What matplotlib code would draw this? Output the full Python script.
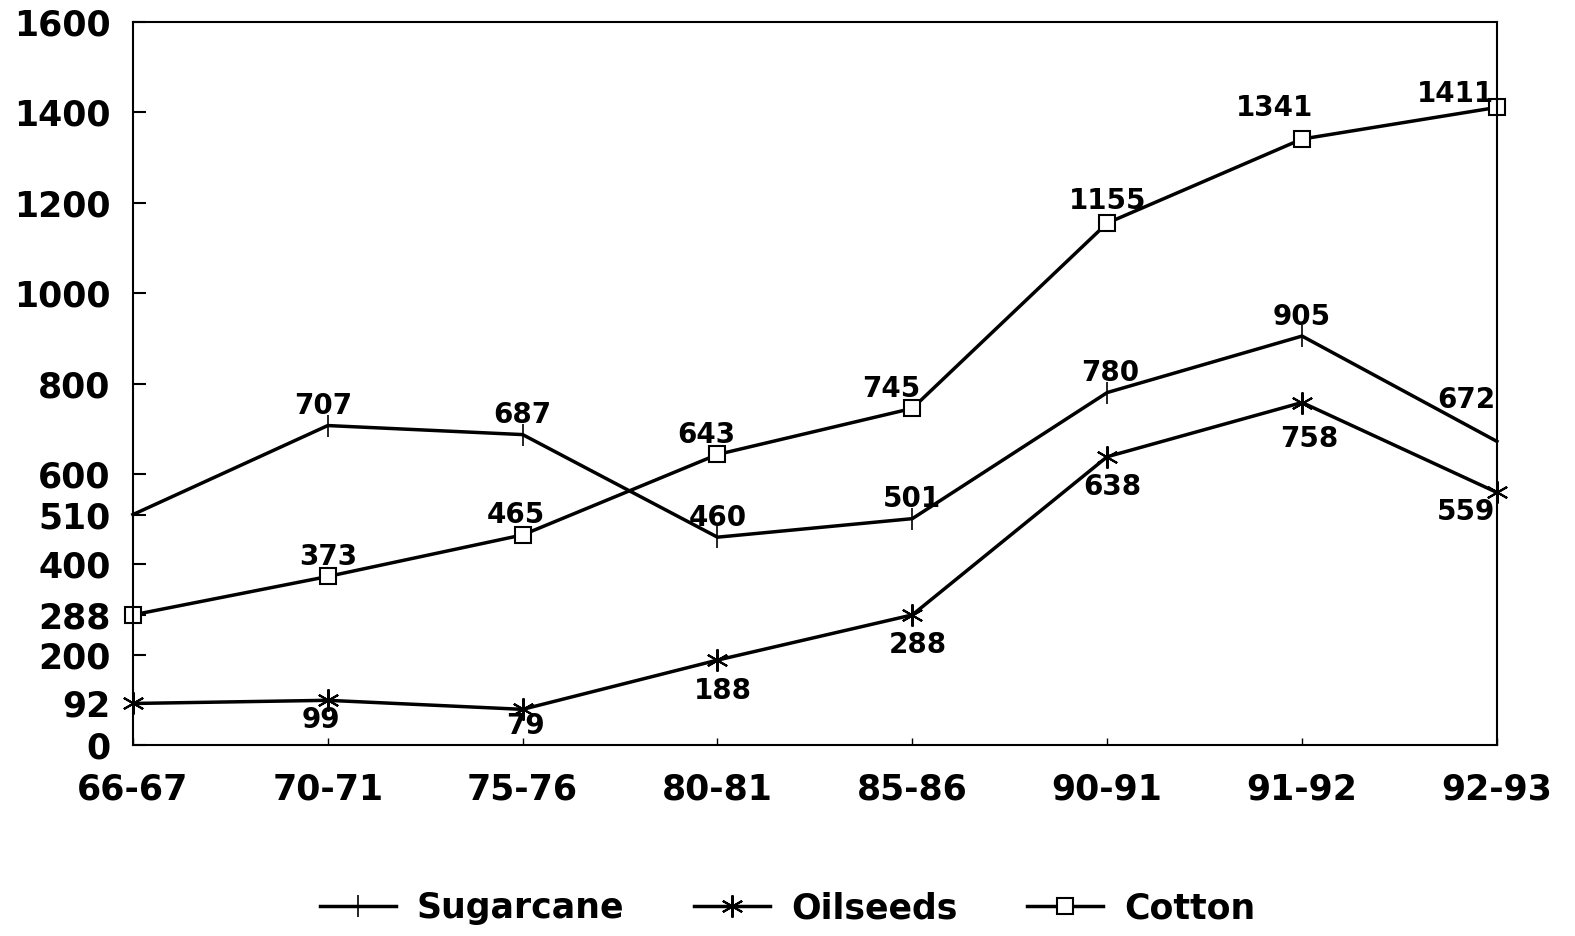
import numpy as np
import matplotlib.pyplot as plt

# years on the x axis
years = ['66-67', '70-71', '75-76', '80-81', '85-86', '90-91', '91-92', '92-93']

sugarcane = [510, 707, 687, 460, 501, 780, 905, 672]
oilseeds = [92, 99, 79, 188, 288, 638, 758, 559]
cotton = [288, 373, 465, 643, 745, 1155, 1341, 1411]

# label offsets in points (dx, dy); None = value shown on the y axis instead
sug_off = [None, (-3, 14), (0, 14), (0, 14), (0, 14), (2, 14), (0, 14), (-22, 30)]
oil_off = [None, (-5, -14), (2, -12), (4, -22), (4, -22), (4, -22), (5, -26), (-22, -14)]
cot_off = [None, (0, 14), (-5, 14), (-8, 14), (-15, 14), (0, 16), (-20, 22), (-30, 10)]

plt.rcParams['font.family'] = 'DejaVu Sans'

fig = plt.figure(figsize=(15.75, 9.36), dpi=100)
ax = fig.add_axes([0.0844, 0.204, 0.866, 0.7725])

x = np.arange(len(years))
lw = 2.5
ax.plot(x, sugarcane, color='black', lw=lw, marker='|', ms=16, mew=1.2, label='Sugarcane', clip_on=False)
ax.plot(x, oilseeds, color='black', lw=lw, marker=(6, 2, 0), ms=16, mew=1.5, label='Oilseeds', clip_on=False)
ax.plot(x, cotton, color='black', lw=lw, marker='s', ms=12, mfc='white', mew=1.5, label='Cotton', clip_on=False)

for vals, offs in [(sugarcane, sug_off), (oilseeds, oil_off), (cotton, cot_off)]:
    for i, v in enumerate(vals):
        if offs[i] is None:
            continue
        ax.annotate(str(v), (i, v), xytext=offs[i], textcoords='offset points',
                    ha='center', va='center', fontsize=20, fontweight='bold')

ax.set_xlim(0, len(years) - 1)
ax.set_ylim(0, 1600)
ax.set_xticks(x)
ax.set_xticklabels(years, fontsize=25, fontweight='bold')
yt = [0, 92, 200, 288, 400, 510, 600, 800, 1000, 1200, 1400, 1600]
ax.set_yticks(yt)
ax.set_yticklabels([str(v) for v in yt], fontsize=25, fontweight='bold')
ax.tick_params(axis='y', direction='in', length=9, width=1.5, pad=16)
ax.tick_params(axis='x', direction='in', length=5, width=1, pad=20)
for s in ax.spines.values():
    s.set_linewidth(1.5)

fig.legend(loc='lower center', bbox_to_anchor=(0.5, -0.022), ncol=3, frameon=False,
           prop={'size': 25, 'weight': 'bold'}, handlelength=2.2, handletextpad=0.6,
           columnspacing=2.0)

fig.savefig('out.png', dpi=100, facecolor='white')
